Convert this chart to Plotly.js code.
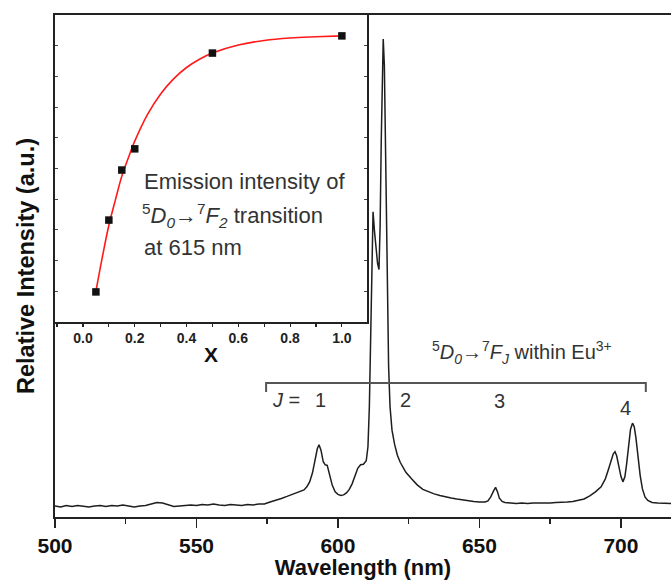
<!DOCTYPE html>
<html>
<head>
<meta charset="utf-8">
<script src="https://cdn.plot.ly/plotly-3.0.1.min.js"></script>
<style>html,body{margin:0;padding:0;background:#fff;}#chart{width:671px;height:580px;}</style>
</head>
<body>
<div id="chart"></div>
<script>
// Main emission spectrum (wavelength in nm, relative intensity in a.u.)
const wavelength = [500,502,504,506,508,510,512,514,516,518,520,522,524,526,528,530,532,534,536,538,540,542,544,546,548,550,552,554,556,558,560,562,564,566,568,570,572,574,576,578,580,582,584,586,588,589,590,591,592,592.7,593.3,594,594.8,595.5,596.2,597,598,599,600,601,602,603,604,605,606,607,608,609,610,610.6,611.1,611.6,612.1,612.4,612.9,613.4,614,614.5,614.9,615.3,615.7,616,616.4,616.9,617.4,617.9,618.4,619.1,620,621,622,623,624,626,628,630,632,634,636,638,640,642,644,646,648,650,652,653,654,655,655.7,656.4,657,658,659,661,663,665,667,669,671,673,675,677,679,681,683,685,687,689,691,693,694.5,695.5,696.5,697.3,697.9,698.5,699.2,700,700.7,701.4,702,702.7,703.4,704.1,704.7,705.3,706,706.8,707.6,708.5,709.5,711,713,715,717,718];
const intensity = [2.2,2.0,2.3,2.1,2.3,2.2,2.0,2.2,2.3,2.1,2.3,2.2,2.4,2.2,2.0,2.2,2.3,2.6,2.9,2.8,2.4,2.1,2.2,2.3,2.4,2.3,2.5,2.4,2.6,2.4,2.3,2.5,2.4,2.3,2.5,2.4,2.6,2.6,3.0,3.3,3.7,4.1,4.5,4.9,5.4,6.0,7.0,8.8,11.4,13.6,14.4,13.3,11.0,10.4,10.3,8.5,6.3,5.0,4.5,4.3,4.4,4.8,5.5,6.6,8.3,9.7,10.4,10.5,11.2,14,22,38,55,60.8,57,53.5,50.5,49.3,58,75,90,95.2,90,70,46,30,22,17.3,14.5,12.3,10.9,9.8,8.9,7.6,6.4,5.5,5.0,4.6,4.3,4.0,3.8,3.6,3.4,3.2,3.1,3.0,3.0,3.2,4.0,5.2,5.9,5.0,3.8,3.1,2.9,2.8,2.7,2.8,2.7,2.8,2.8,2.7,2.8,2.9,2.9,3.0,3.1,3.3,3.6,4.2,5.0,6.0,7.6,9.3,11.3,12.6,13.0,12.2,10.3,8.1,7.0,8.0,10.5,14.5,17.5,18.7,18.0,15.8,12.0,8.3,5.6,4.0,3.3,2.9,2.8,2.8,2.7,2.7];

// Inset: emission intensity of 5D0->7F2 (615 nm) vs x
const insetX = [0.05,0.1,0.15,0.2,0.5,1.0];
const insetY = [9.8,33.2,49.5,56.4,87.6,93.2];
// Red fitted curve
const fitX = [0.05,0.075,0.1,0.125,0.15,0.175,0.2,0.25,0.3,0.35,0.4,0.45,0.5,0.6,0.7,0.8,0.9,1.0];
const fitY = [10.0,21.2,31.5,39.7,47.5,53.4,58.9,67.7,74.3,79.2,82.9,85.6,87.6,90.2,91.7,92.5,92.9,93.2];

const insetTicks = [0.0,0.2,0.4,0.6,0.8,1.0];
const mainTicks = [500,550,600,650,700];

const FONT = 'Liberation Sans, Arial, Helvetica, sans-serif';

// pixel helpers for annotation placement (plot area: left 55, top 15, width 616, height 502)
const px = v => (v - 55) / 616;
const py = v => (517 - v) / 502;

const traces = [
  {x: wavelength, y: intensity, type: 'scatter', mode: 'lines', xaxis: 'x', yaxis: 'y',
   line: {color: '#1e1e1e', width: 1.5}, hoverinfo: 'skip', showlegend: false},
  {x: fitX, y: fitY, type: 'scatter', mode: 'lines', xaxis: 'x2', yaxis: 'y2',
   line: {color: '#ff1a1a', width: 1.6, shape: 'spline'}, showlegend: false},
  {x: insetX, y: insetY, type: 'scatter', mode: 'markers', xaxis: 'x2', yaxis: 'y2',
   marker: {symbol: 'square', size: 7.5, color: '#111'}, showlegend: false}
];

const txt = {family: FONT, size: 22, color: '#333'};
const annotations = [
  {text: 'Emission intensity of', x: px(142), y: py(181)},
  {text: '<sup>5</sup><i>D</i><sub><i>0</i></sub>→<sup>7</sup><i>F</i><sub><i>2</i></sub> transition', x: px(140), y: py(215)},
  {text: 'at 615 nm', x: px(142), y: py(247)},
].map(a => Object.assign({xref: 'paper', yref: 'paper', xanchor: 'left', yanchor: 'middle', showarrow: false, font: txt}, a));

const lab = {family: FONT, size: 20, color: '#333'};
[
  {text: '<sup>5</sup><i>D</i><sub><i>0</i></sub>→<sup>7</sup><i>F</i><sub><i>J</i></sub> within Eu<sup>3+</sup>', x: px(522), y: py(352)},
  {text: '<i>J</i> =', x: px(286), y: py(400)},
  {text: '1', x: px(320), y: py(400)},
  {text: '2', x: px(405), y: py(400)},
  {text: '3', x: px(499), y: py(401)},
  {text: '4', x: px(625), y: py(408)}
].forEach(a => annotations.push(Object.assign({xref: 'paper', yref: 'paper', xanchor: 'center', yanchor: 'middle', showarrow: false, font: lab}, a)));

const layout = {
  width: 671, height: 580,
  margin: {l: 55, r: 0, t: 15, b: 63},
  paper_bgcolor: '#fff', plot_bgcolor: 'rgba(0,0,0,0)',
  font: {family: FONT, color: '#111'},
  showlegend: false,
  xaxis: {
    domain: [0, 1], range: [500, 717.7], tickvals: mainTicks,
    ticks: 'outside', ticklen: 9, tickwidth: 1.5, tickcolor: '#222',
    minor: {dtick: 25, tick0: 500, ticks: 'outside', ticklen: 5, tickwidth: 1.5, tickcolor: '#222'},
    showline: true, linewidth: 2, linecolor: '#222', mirror: true,
    showgrid: false, zeroline: false,
    tickfont: {family: FONT, size: 21, weight: 'bold', color: '#111'},
    title: {text: 'Wavelength (nm)', font: {family: FONT, size: 22, weight: 'bold', color: '#111'}, standoff: 3}
  },
  yaxis: {
    domain: [0, 1], range: [0, 100],
    showline: true, linewidth: 2, linecolor: '#222',
    ticks: '', showticklabels: false, showgrid: false, zeroline: false,
    title: {text: 'Relative Intensity (a.u.)', font: {family: FONT, size: 23.5, weight: 'bold', color: '#111'}, standoff: 12}
  },
  xaxis2: {
    domain: [0, px(367)], anchor: 'y2', range: [-0.108, 1.097],
    tickvals: insetTicks, tickformat: '.1f',
    ticks: 'outside', ticklen: 3, tickwidth: 1.2, tickcolor: '#222',
    minor: {dtick: 0.1, tick0: 0.1, ticks: 'outside', ticklen: 3, tickwidth: 1.2, tickcolor: '#222'},
    showline: true, linewidth: 1.5, linecolor: '#222', mirror: true,
    showgrid: false, zeroline: false,
    tickfont: {family: FONT, size: 14, weight: 'bold', color: '#222'},
    title: {text: 'X', font: {family: FONT, size: 21, weight: 'bold', color: '#111'}, standoff: 2}
  },
  yaxis2: {
    domain: [py(322), 1], anchor: 'x2', range: [0, 100], dtick: 10,
    ticks: 'inside', ticklen: 3, tickwidth: 1, tickcolor: '#444',
    showline: true, linewidth: 1.5, linecolor: '#222', mirror: 'ticks',
    showticklabels: false, showgrid: false, zeroline: false
  },
  shapes: [
    {type: 'path', xref: 'x', yref: 'y', path: 'M574.6,24.9 L574.6,26.7 L708.8,26.7 L708.8,24.9',
     line: {color: '#555', width: 2}}
  ],
  annotations: annotations
};

Plotly.newPlot('chart', traces, layout, {staticPlot: true, displayModeBar: false});
</script>
</body>
</html>
